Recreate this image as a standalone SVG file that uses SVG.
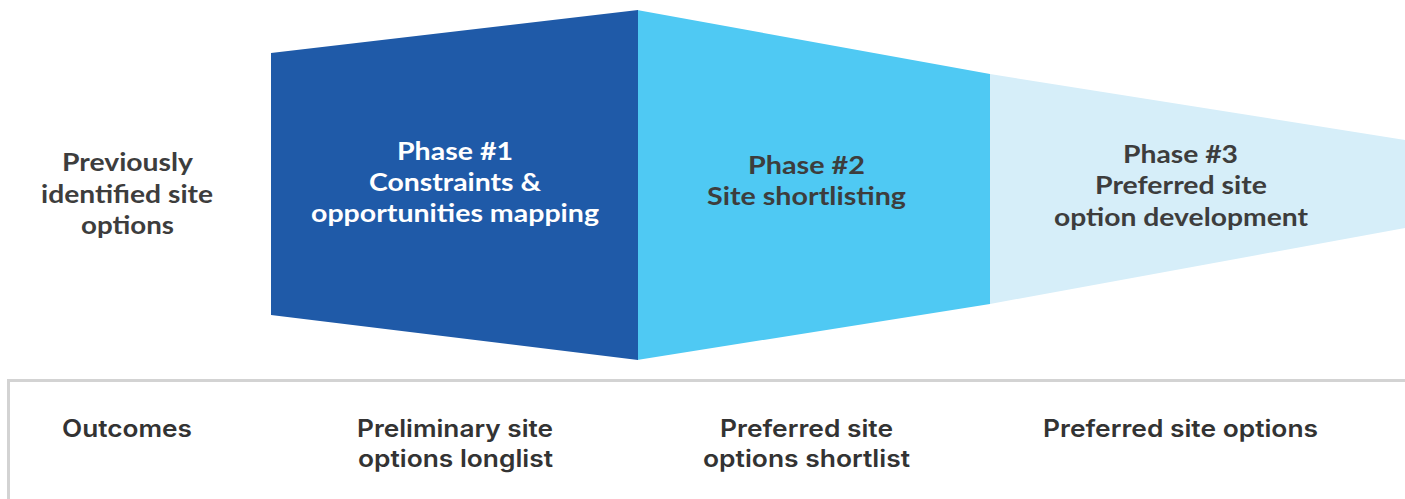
<svg xmlns="http://www.w3.org/2000/svg" width="1405" height="499" viewBox="0 0 1405 499">
<style>
.t{font-family:"Lato","Open Sans",sans-serif;font-weight:700;font-size:25.5px;text-anchor:middle;fill:#3d3d3d}
.w{fill:#ffffff}
.b{font-family:"Inter","Open Sans",sans-serif;font-weight:600;font-size:24px;text-anchor:middle;fill:#333333}
.ln{stroke:#d3d3d3;stroke-width:3;fill:none}
</style>
<rect width="1405" height="499" fill="#ffffff"/>
<g id="phase3">
<polygon points="990,74 1405,140 1405,228 990,304" fill="#d6eef9"/>
<text class="t" x="1180.5" y="163" textLength="115" lengthAdjust="spacingAndGlyphs">Phase #3</text>
<text class="t" x="1181" y="194" textLength="172" lengthAdjust="spacingAndGlyphs">Preferred site</text>
<text class="t" x="1181" y="226" textLength="254" lengthAdjust="spacingAndGlyphs">option development</text>
</g>
<g id="phase2">
<polygon points="637,10 990,74 990,304 637,360" fill="#4fc9f3"/>
<text class="t" x="806.5" y="174" textLength="117" lengthAdjust="spacingAndGlyphs">Phase #2</text>
<text class="t" x="806.5" y="205" textLength="199" lengthAdjust="spacingAndGlyphs">Site shortlisting</text>
</g>
<g id="phase1">
<polygon points="271,53 638,10 638,360 271,315" fill="#1f5aa8"/>
<text class="t w" x="455" y="160" textLength="116" lengthAdjust="spacingAndGlyphs">Phase #1</text>
<text class="t w" x="455" y="191" textLength="172" lengthAdjust="spacingAndGlyphs">Constraints &amp;</text>
<text class="t w" x="455" y="222" textLength="288" lengthAdjust="spacingAndGlyphs">opportunities mapping</text>
</g>
<g id="previous">
<text class="t" x="127.5" y="171" textLength="131" lengthAdjust="spacingAndGlyphs">Previously</text>
<text class="t" x="127" y="203" textLength="172" lengthAdjust="spacingAndGlyphs">identified site</text>
<text class="t" x="127.5" y="234" textLength="93" lengthAdjust="spacingAndGlyphs">options</text>
</g>
<g id="outcomes-frame">
<path class="ln" d="M1405,380.5 H8.5 V499"/>
</g>
<g id="outcomes">
<text class="b" x="127" y="437" textLength="130" lengthAdjust="spacingAndGlyphs">Outcomes</text>
<text class="b" x="455" y="437" textLength="196" lengthAdjust="spacingAndGlyphs">Preliminary site</text>
<text class="b" x="455.5" y="467" textLength="195" lengthAdjust="spacingAndGlyphs">options longlist</text>
<text class="b" x="806.5" y="437" textLength="173" lengthAdjust="spacingAndGlyphs">Preferred site</text>
<text class="b" x="806.5" y="467" textLength="207" lengthAdjust="spacingAndGlyphs">options shortlist</text>
<text class="b" x="1180.5" y="437" textLength="275" lengthAdjust="spacingAndGlyphs">Preferred site options</text>
</g>
<g id="connectors"></g>
</svg>
